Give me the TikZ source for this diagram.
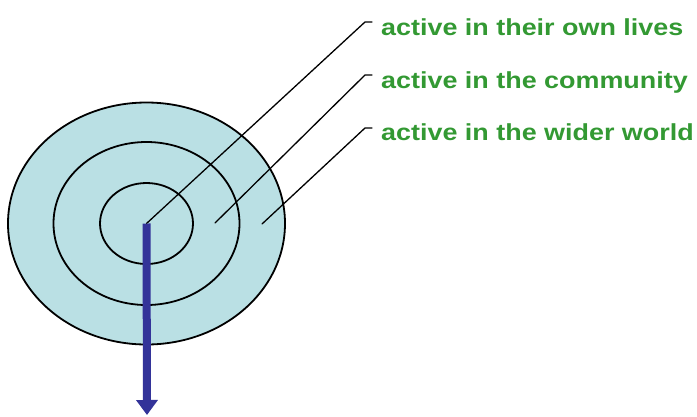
\documentclass[tikz,border=0pt]{standalone}
\usepackage{fontspec}
\newfontfamily\lblfont[FakeStretch=1.16]{Liberation Sans}
\usetikzlibrary{arrows.meta}
\definecolor{ringfill}{RGB}{186,224,228}
\definecolor{lblgreen}{RGB}{51,153,51}
\definecolor{arrowblue}{RGB}{51,51,153}
\begin{document}
\begin{tikzpicture}[x=1pt, y=-1pt, line join=round, line cap=round,
	ring/.style={draw=black, line width=1.8pt, fill=ringfill},
	lbl/.style={anchor=base west, text=lblgreen, inner sep=0pt,
		font=\lblfont\bfseries\fontsize{23.2}{26}\selectfont},
	leader/.style={draw=black, line width=1.3pt}]
	\useasboundingbox (0,0) rectangle (697,416);
	\path (146.5,223.5) coordinate (O)
		(215,223) coordinate (P)
		(262,224) coordinate (Q)
		(147,415) coordinate (T);
	\foreach \rx/\ry in {138.5/121, 93/81.5, 46.5/40.5}{
		\draw[ring] (O) ellipse [x radius=\rx pt, y radius=\ry pt];
	}
	\node[lbl] (own) at (381,35) {active in their own lives};
	\node[lbl] (comm) at (381,88.5) {active in the community};
	\node[lbl] (wide) at (381,140) {active in the wider world};
	\foreach \s/\y/\k in {O/22/own, P/75/comm, Q/128/wide}{
		\path (365,\y) coordinate (\k-bend);
		\draw[leader] (\s) -- (\k-bend) -- ++(7,0);
	}
	\draw[arrowblue, line width=8pt, line cap=butt, -{Triangle[width=21pt,length=15pt]}] (O) -- (T);
\end{tikzpicture}
\end{document}
